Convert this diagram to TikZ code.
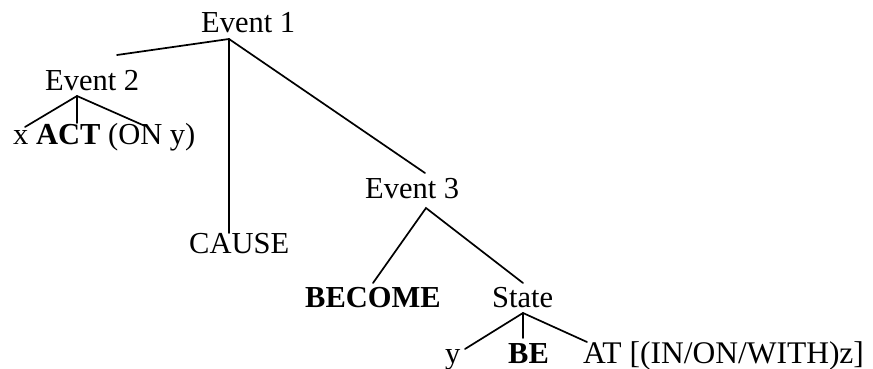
\documentclass[tikz,border=0pt]{standalone}
\usepackage{fontspec}
\setmainfont{Liberation Serif}
\begin{document}
\begin{tikzpicture}[x=1pt,y=-1pt,
  lbl/.style={anchor=base west,inner sep=0pt,font=\fontsize{30.5}{33}\selectfont},
  br/.style={line width=1.7pt,line cap=round}]
\useasboundingbox (0,0) rectangle (873,369);
% labels
\node[lbl] (ev1) at (201,33) {Event 1};
\node[lbl] (ev2) at (45,90) {Event 2};
\node[lbl] (act) at (13,144) {x \textbf{ACT} (ON y)};
\node[lbl] (cause) at (189,253) {CAUSE};
\node[lbl] (ev3) at (365,198) {Event 3};
\node[lbl] (become) at (305,307) {\textbf{BECOME}};
\node[lbl] (state) at (492,307) {State};
\node[lbl] (y) at (445,363) {y};
\node[lbl] (be) at (508,363) {\textbf{BE}};
\node[lbl,font=\fontsize{31.5}{33}\selectfont] (at) at (583,363) {AT [(IN/ON/WITH)z]};
% joints
\coordinate (a1) at (229,39);
\coordinate (l1) at (117,55);
\coordinate (c1) at (229,233);
\coordinate (r1) at (425,173);
\coordinate (a2) at (77,96);
\coordinate (l2) at (25,127);
\coordinate (c2) at (77,123);
\coordinate (r2) at (145,126);
\coordinate (a3) at (426,208);
\coordinate (l3) at (373,283);
\coordinate (r3) at (523,283);
\coordinate (a4) at (523,313);
\coordinate (l4) at (465,349);
\coordinate (c4) at (523,338);
\coordinate (r4) at (587,342);
% branches
\draw[br] (l1) -- (a1) -- (r1);
\draw[br] (a1) -- (c1);
\draw[br] (l2) -- (a2) -- (r2);
\draw[br] (a2) -- (c2);
\draw[br] (l3) -- (a3) -- (r3);
\draw[br] (l4) -- (a4) -- (r4);
\draw[br] (a4) -- (c4);
\end{tikzpicture}
\end{document}
